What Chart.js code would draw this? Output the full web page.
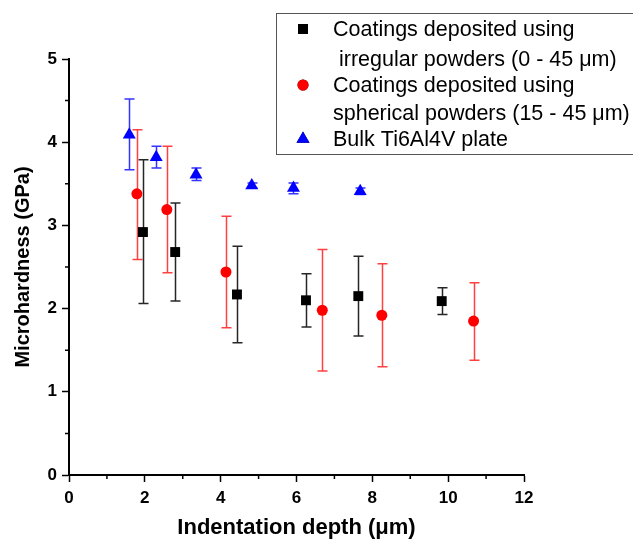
<!DOCTYPE html>
<html>
<head>
<meta charset="utf-8">
<script src="https://cdn.jsdelivr.net/npm/chart.js@4.4.1/dist/chart.umd.min.js"></script>
<style>
  html, body { margin: 0; padding: 0; background: #fff; }
  #wrap { width: 633px; height: 539px; }
</style>
</head>
<body>
<div id="wrap"><canvas id="chart" width="633" height="539"></canvas></div>
<script>
// irregular powders (black squares)
const IRR_X  = [1.95, 2.80, 4.43, 6.25, 7.63, 9.83];
const IRR_Y  = [2.92, 2.68, 2.17, 2.10, 2.15, 2.09];
const IRR_LO = [2.06, 2.09, 1.59, 1.78, 1.67, 1.93];
const IRR_HI = [3.79, 3.27, 2.75, 2.42, 2.63, 2.25];

// spherical powders (red circles)
const SPH_X  = [1.79, 2.58, 4.14, 6.68, 8.25, 10.67];
const SPH_Y  = [3.38, 3.19, 2.44, 1.98, 1.92, 1.85];
const SPH_LO = [2.59, 2.43, 1.77, 1.25, 1.30, 1.38];
const SPH_HI = [4.15, 3.95, 3.11, 2.71, 2.54, 2.31];

// bulk plate (blue triangles)
const BULK_X  = [1.59, 2.30, 3.35, 4.82, 5.92, 7.68];
const BULK_Y  = [4.09, 3.82, 3.61, 3.48, 3.45, 3.41];
const BULK_LO = [3.67, 3.69, 3.54, 3.45, 3.38, 3.37];
const BULK_HI = [4.52, 3.95, 3.69, 3.51, 3.51, 3.45];

const X_MIN = 0, X_MAX = 12, X_STEP = 2;
const Y_MIN = 0, Y_MAX = 5, Y_STEP = 1;

const LABELS = [
  ['Coatings deposited using', ' irregular powders (0 - 45 \u03bcm)'],
  ['Coatings deposited using', 'spherical powders (15 - 45 \u03bcm)'],
  ['Bulk Ti6Al4V plate']
];

const FONT = '"Liberation Sans", Arial, sans-serif';

const pts = (xs, ys, lo, hi) => xs.map((x, i) => ({ x, y: ys[i], lo: lo[i], hi: hi[i] }));

const errorBars = {
  id: 'errorBars',
  beforeDatasetsDraw(chart) {
    const { ctx, scales: { x, y } } = chart;
    chart.data.datasets.forEach(ds => {
      ctx.save();
      ctx.strokeStyle = ds.errColor;
      ctx.lineWidth = 1.5;
      ds.data.forEach(p => {
        const px = Math.round(x.getPixelForValue(p.x)) + 0.5;
        const top = y.getPixelForValue(p.hi), bot = y.getPixelForValue(p.lo);
        ctx.beginPath();
        ctx.moveTo(px, top); ctx.lineTo(px, bot);
        ctx.moveTo(px - 5, top); ctx.lineTo(px + 5, top);
        ctx.moveTo(px - 5, bot); ctx.lineTo(px + 5, bot);
        ctx.stroke();
      });
      ctx.restore();
    });
  }
};

const minorTicks = {
  id: 'minorTicks',
  afterDraw(chart) {
    const { ctx, scales: { x, y }, chartArea: a } = chart;
    ctx.save();
    ctx.strokeStyle = '#000';
    ctx.lineWidth = 1.5;
    ctx.beginPath();
    for (let v = X_MIN + X_STEP / 2; v < X_MAX; v += X_STEP) {
      const px = x.getPixelForValue(v);
      ctx.moveTo(px, a.bottom); ctx.lineTo(px, a.bottom + 4);
    }
    for (let v = Y_MIN + Y_STEP / 2; v < Y_MAX; v += Y_STEP) {
      const py = y.getPixelForValue(v);
      ctx.moveTo(a.left, py); ctx.lineTo(a.left - 4, py);
    }
    ctx.stroke();
    ctx.restore();
  }
};

const legendBox = {
  id: 'legendBox',
  afterDraw(chart) {
    const { ctx } = chart;
    ctx.save();
    ctx.strokeStyle = '#555';
    ctx.lineWidth = 1;
    ctx.strokeRect(276.5, 13.5, 400, 141);
    ctx.font = '21.5px ' + FONT;
    ctx.fillStyle = '#000';
    ctx.textBaseline = 'middle';
    const rows = [[29, 59], [85, 113], [139]];
    chart.data.datasets.forEach((ds, i) => {
      Chart.helpers.drawPoint(ctx, {
        pointStyle: ds.pointStyle, radius: ds.pointRadius, rotation: 0, borderWidth: 0
      }, 303, rows[i][0]);
      ctx.fillStyle = ds.backgroundColor;
      ctx.fill();
      ctx.fillStyle = '#000';
      LABELS[i].forEach((t, j) => ctx.fillText(t, 333, rows[i][j] + 1));
    });
    ctx.restore();
  }
};

const axisGrid = { drawOnChartArea: false, drawTicks: true, tickLength: 7, tickWidth: 1.5, color: '#000' };

new Chart(document.getElementById('chart'), {
  type: 'scatter',
  data: {
    datasets: [
      { label: 'irregular', data: pts(IRR_X, IRR_Y, IRR_LO, IRR_HI), pointStyle: 'rect', pointRadius: 7,
        backgroundColor: '#000', borderColor: '#000', borderWidth: 0, errColor: 'rgba(0,0,0,0.85)' },
      { label: 'spherical', data: pts(SPH_X, SPH_Y, SPH_LO, SPH_HI), pointStyle: 'circle', pointRadius: 5.5,
        backgroundColor: '#ff0000', borderColor: '#ff0000', borderWidth: 0, errColor: 'rgba(255,0,0,0.75)' },
      { label: 'bulk', data: pts(BULK_X, BULK_Y, BULK_LO, BULK_HI), pointStyle: 'triangle', pointRadius: 7.5,
        backgroundColor: '#0000ff', borderColor: '#0000ff', borderWidth: 0, errColor: 'rgba(0,0,255,0.8)' }
    ]
  },
  options: {
    responsive: false,
    animation: false,
    devicePixelRatio: 1,
    layout: { padding: { left: 0, right: 109, top: 59, bottom: 0 } },
    plugins: { legend: { display: false }, tooltip: { enabled: false } },
    scales: {
      x: {
        type: 'linear', min: X_MIN, max: X_MAX,
        afterFit: s => { s.height = 64; },
        border: { color: '#000', width: 2 },
        grid: axisGrid,
        ticks: { stepSize: X_STEP, color: '#000', padding: 6, font: { family: FONT, size: 17, weight: 'bold' } },
        title: { display: true, text: 'Indentation depth (\u03bcm)', color: '#000', padding: { top: 0, bottom: 0 },
          font: { family: FONT, size: 22, weight: 'bold', lineHeight: 1.0 } }
      },
      y: {
        type: 'linear', min: Y_MIN, max: Y_MAX,
        afterFit: s => { s.width = 69; },
        border: { color: '#000', width: 2 },
        grid: axisGrid,
        ticks: { stepSize: Y_STEP, color: '#000', padding: 5, font: { family: FONT, size: 17, weight: 'bold' } },
        title: { display: true, text: 'Microhardness (GPa)', color: '#000', padding: { top: 11, bottom: 0 },
          font: { family: FONT, size: 20, weight: 'bold' } }
      }
    }
  },
  plugins: [errorBars, minorTicks, legendBox]
});
</script>
</body>
</html>
